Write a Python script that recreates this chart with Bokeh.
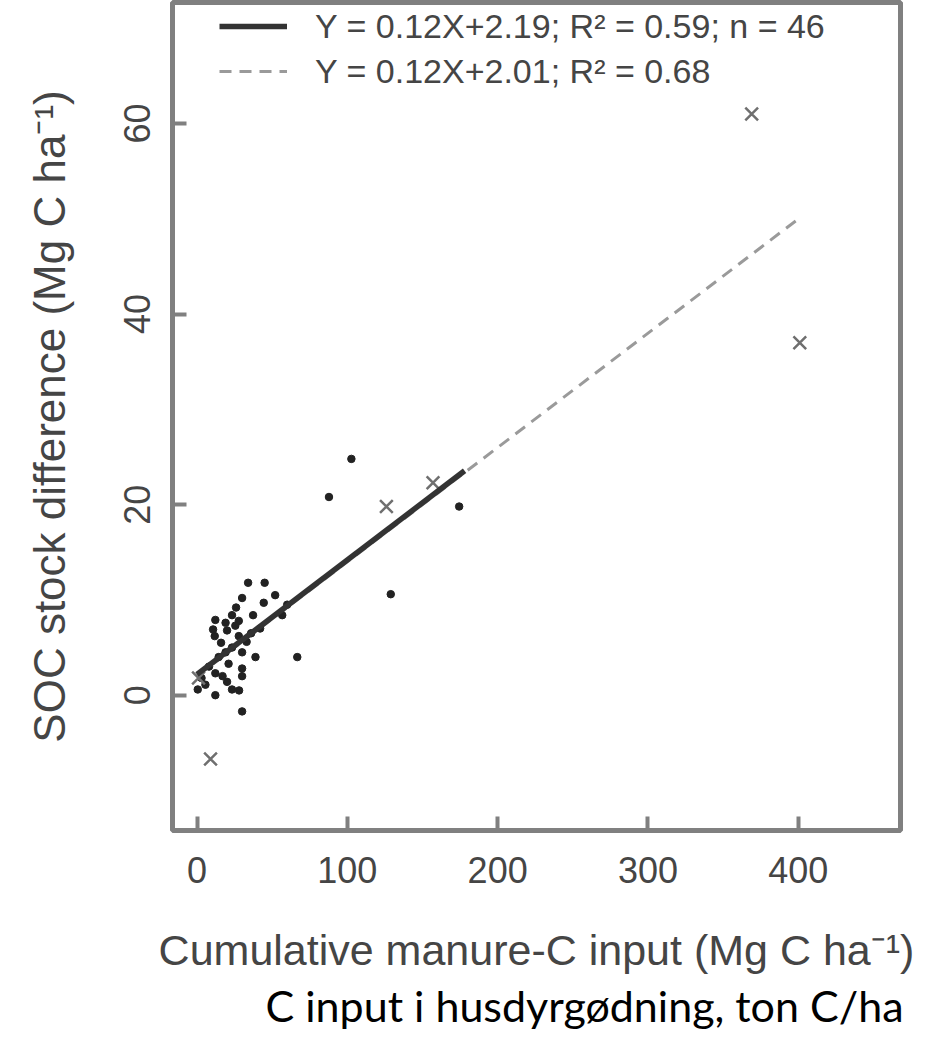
from bokeh.plotting import figure
from bokeh.models import Legend, LegendItem, Title, FixedTicker, Range1d
from bokeh.embed import file_html
from bokeh.resources import INLINE

# ---- data ----
dot_x = [102.7, 87.8, 174.4, 128.9, 66.7, 30.0,
         34.0, 45.0, 30.0, 44.4, 52.0, 37.3, 23.3, 12.2, 19.0, 27.8,
         11.8, 27.8, 56.7, 38.9, 14.4, 19.0, 30.0, 23.3, 12.2, 30.0,
         30.0, 5.6, 23.3, 12.2, 0.5, 20.0, 10.7, 25.5, 16.0, 21.0,
         8.0, 26.0, 33.0, 42.0, 17.0, 28.0, 3.0, 36.0, 60.0, 20.0]
dot_y = [24.8, 20.8, 19.8, 10.6, 4.0, -1.7,
         11.8, 11.8, 10.2, 9.7, 10.5, 8.4, 8.4, 7.9, 7.6, 7.8,
         6.2, 6.2, 8.4, 4.0, 4.0, 4.5, 4.5, 5.0, 2.3, 2.8,
         2.0, 1.1, 0.6, 0.0, 0.6, 1.4, 6.9, 7.3, 5.5, 3.3,
         3.0, 9.2, 5.6, 7.0, 2.0, 0.5, 1.8, 6.5, 9.5, 6.8]
cross_x = [9.0, 369.0, 401.0, 126.0, 157.0, 1.0]
cross_y = [-6.7, 61.0, 37.0, 19.8, 22.3, 1.8]

fit_n46_x = [0, 178]
fit_n46_y = [2.19, 23.55]
fit_all_x = [0, 401]
fit_all_y = [2.01, 50.1]

x_ticks = [0, 100, 200, 300, 400]
y_ticks = [0, 20, 40, 60]
legend_labels = ["Y = 0.12X+2.19; R\u00b2 = 0.59; n = 46",
                 "Y = 0.12X+2.01; R\u00b2 = 0.68"]
x_title = "Cumulative manure-C input (Mg C ha\u207b\u00b9)"
y_title = "SOC stock difference (Mg C ha\u207b\u00b9)"
bottom_text = "C input i husdyrgødning, ton C/ha"

FONT = "Liberation Sans"
GRAY = "#808080"
TXT = "#454545"

p = figure(frame_width=728, frame_height=828,
           x_range=Range1d(-16.3, 468), y_range=Range1d(-14.2, 72.7),
           output_backend="svg", toolbar_location=None,
           min_border_left=172, min_border_right=26, min_border_top=2,
           min_border_bottom=0,
           x_axis_label=x_title, y_axis_label=y_title)

p.background_fill_color = "white"
p.border_fill_color = "white"
p.outline_line_color = GRAY
p.outline_line_width = 5
p.xgrid.visible = False
p.ygrid.visible = False

p.xaxis.ticker = FixedTicker(ticks=x_ticks)
p.yaxis.ticker = FixedTicker(ticks=y_ticks)
for ax in (p.xaxis[0], p.yaxis[0]):
    ax.axis_line_color = None
    ax.major_tick_in = 14
    ax.major_tick_out = 0
    ax.major_tick_line_color = GRAY
    ax.major_tick_line_width = 4
    ax.minor_tick_line_color = None
    ax.major_label_text_font = FONT
    ax.major_label_text_font_size = "36px"
    ax.major_label_text_color = TXT
    ax.axis_label_text_font = FONT
    ax.axis_label_text_font_size = "43px"
    ax.axis_label_text_font_style = "normal"
    ax.axis_label_text_color = TXT
p.yaxis.axis_label_text_font_size = "44px"
p.xaxis.major_label_standoff = 26
p.xaxis.axis_label_standoff = 40
p.yaxis.major_label_standoff = 22
p.yaxis.axis_label_standoff = 48
p.yaxis.major_label_orientation = "vertical"

r_all = p.line(fit_all_x, fit_all_y, line_color="#9a9a9a", line_width=3,
               line_dash="12 8")
p.scatter(dot_x, dot_y, marker="circle", size=7.5, fill_color="#222222",
          line_color="#222222")
p.scatter(cross_x, cross_y, marker="x", size=18, line_color="#6f6f6f",
          line_width=2.5)
r_n46 = p.line(fit_n46_x, fit_n46_y, line_color="#333333", line_width=5.5)

legend = Legend(items=[LegendItem(label=legend_labels[0], renderers=[r_n46]),
                       LegendItem(label=legend_labels[1], renderers=[r_all])],
                location=(47, 739))
legend.background_fill_alpha = 0
legend.border_line_color = None
legend.label_text_font = FONT
legend.label_text_font_size = "34px"
legend.label_text_color = TXT
legend.glyph_width = 68
legend.glyph_height = 40
legend.label_height = 40
legend.label_standoff = 28
legend.spacing = 5
legend.padding = 0
legend.margin = 0
p.add_layout(legend)

t = Title(text=bottom_text, align="right", text_font="Lato",
          text_font_size="43px", text_font_style="normal",
          text_color="black", offset=-3, standoff=2)
p.add_layout(t, "below")

open("out.html", "w").write(file_html(p, INLINE))
